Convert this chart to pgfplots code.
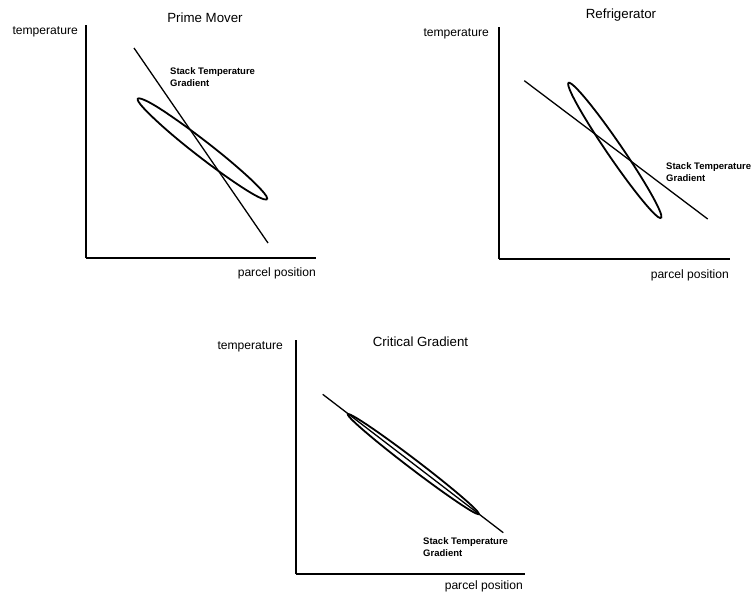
\documentclass[border=0pt]{standalone}
\usepackage{pgfplots}
\pgfplotsset{compat=1.18}
\usepackage{fontspec}
\setmainfont{Liberation Sans}
\pgfplotsset{
  schem/.style={
    scale only axis, axis lines=left, axis line style={-, line width=1.7pt},
    xtick=\empty, ytick=\empty, xmin=0, ymin=0, clip=false, anchor=south west,
  },
}
\tikzset{
  ttl/.style={font=\fontsize{13.3}{15}\selectfont},
  lbl/.style={font=\fontsize{12.1}{14}\selectfont, anchor=east, inner sep=0pt},
  stk/.style={font=\fontsize{9.5}{12}\selectfont\bfseries, align=left, anchor=north west, inner sep=0pt},
  grad/.style={black, line width=1.3pt},
  ell/.style={black, line width=1.8pt, smooth, tension=0.6},
}
\begin{document}
\begin{tikzpicture}[x=1pt,y=1pt]
\useasboundingbox (0,0) rectangle (752,-595);
% ---------- Prime Mover ----------
\begin{axis}[schem, at={(86pt,-258pt)}, xmax=230, ymax=233, width=230pt, height=233pt]
\addplot[grad] coordinates {(48,210) (182,15)};
\addplot[ell] coordinates {
(181.2,58.7) (180.3,62.0) (174.95,68.55) (165.7,77.9) (153.1,89.3) (138.0,102.1)
(121.4,115.3) (104.5,128.1) (88.4,139.6) (74.3,149.1) (63.0,155.8) (55.3,159.2)
(51.8,159.3) (52.7,156.0) (58.05,149.45) (67.3,140.2) (79.9,128.7) (95.0,115.9)
(111.6,102.7) (128.5,89.9) (144.6,78.4) (158.7,69.0) (170.05,62.25) (177.7,58.8)
(181.2,58.7)};
\node[ttl] at (axis cs:119,240) {Prime Mover};
\node[lbl] at (axis cs:-8,226) {temperature};
\node[lbl] at (axis cs:230,-15) {parcel position};
\node[stk] at (axis cs:84,191) {Stack Temperature\\Gradient};
\end{axis}
% ---------- Refrigerator ----------
\begin{axis}[schem, at={(499pt,-259pt)}, xmax=231, ymax=232, width=231pt, height=232pt]
\addplot[grad] coordinates {(25.3,178.3) (208.7,40)};
\addplot[ell] coordinates {
(162.15,40.85) (162.18,44.25) (159.05,52.04) (152.96,63.67) (144.36,78.34) (133.82,95.08)
(122.04,112.74) (109.84,130.12) (98.06,146.0) (87.5,159.33) (78.85,169.2) (72.72,174.95)
(69.55,176.15) (69.52,172.75) (72.65,164.96) (78.74,153.33) (87.34,138.66) (97.88,121.92)
(109.66,104.26) (121.86,86.88) (133.64,71.0) (144.2,57.67) (152.85,47.8) (158.98,42.05)
(162.15,40.85)};
\node[ttl] at (axis cs:122,244) {Refrigerator};
\node[lbl] at (axis cs:-10,225) {temperature};
\node[lbl] at (axis cs:230,-16) {parcel position};
\node[stk] at (axis cs:167,97) {Stack Temperature\\Gradient};
\end{axis}
% ---------- Critical Gradient ----------
\begin{axis}[schem, at={(296pt,-574pt)}, xmax=229, ymax=234, width=229pt, height=234pt]
\addplot[grad] coordinates {(26.7,179.7) (207.3,41.3)};
\addplot[ell] coordinates {
(182.94,59.85) (181.46,62.54) (175.61,68.46) (165.78,77.2) (152.67,88.16) (137.15,100.59)
(120.26,113.67) (103.17,126.49) (87.07,138.16) (73.04,147.9) (62.01,155.06) (54.74,159.14)
(51.76,159.85) (53.24,157.16) (59.09,151.24) (68.92,142.5) (82.03,131.54) (97.55,119.11)
(114.44,106.03) (131.53,93.21) (147.63,81.54) (161.66,71.8) (172.69,64.64) (179.96,60.56)
(182.94,59.85)};
\node[ttl] at (axis cs:124.5,232) {Critical Gradient};
\node[lbl] at (axis cs:-13,227) {temperature};
\node[lbl] at (axis cs:227,-12) {parcel position};
\node[stk] at (axis cs:127,37) {Stack Temperature\\Gradient};
\end{axis}
\end{tikzpicture}
\end{document}
